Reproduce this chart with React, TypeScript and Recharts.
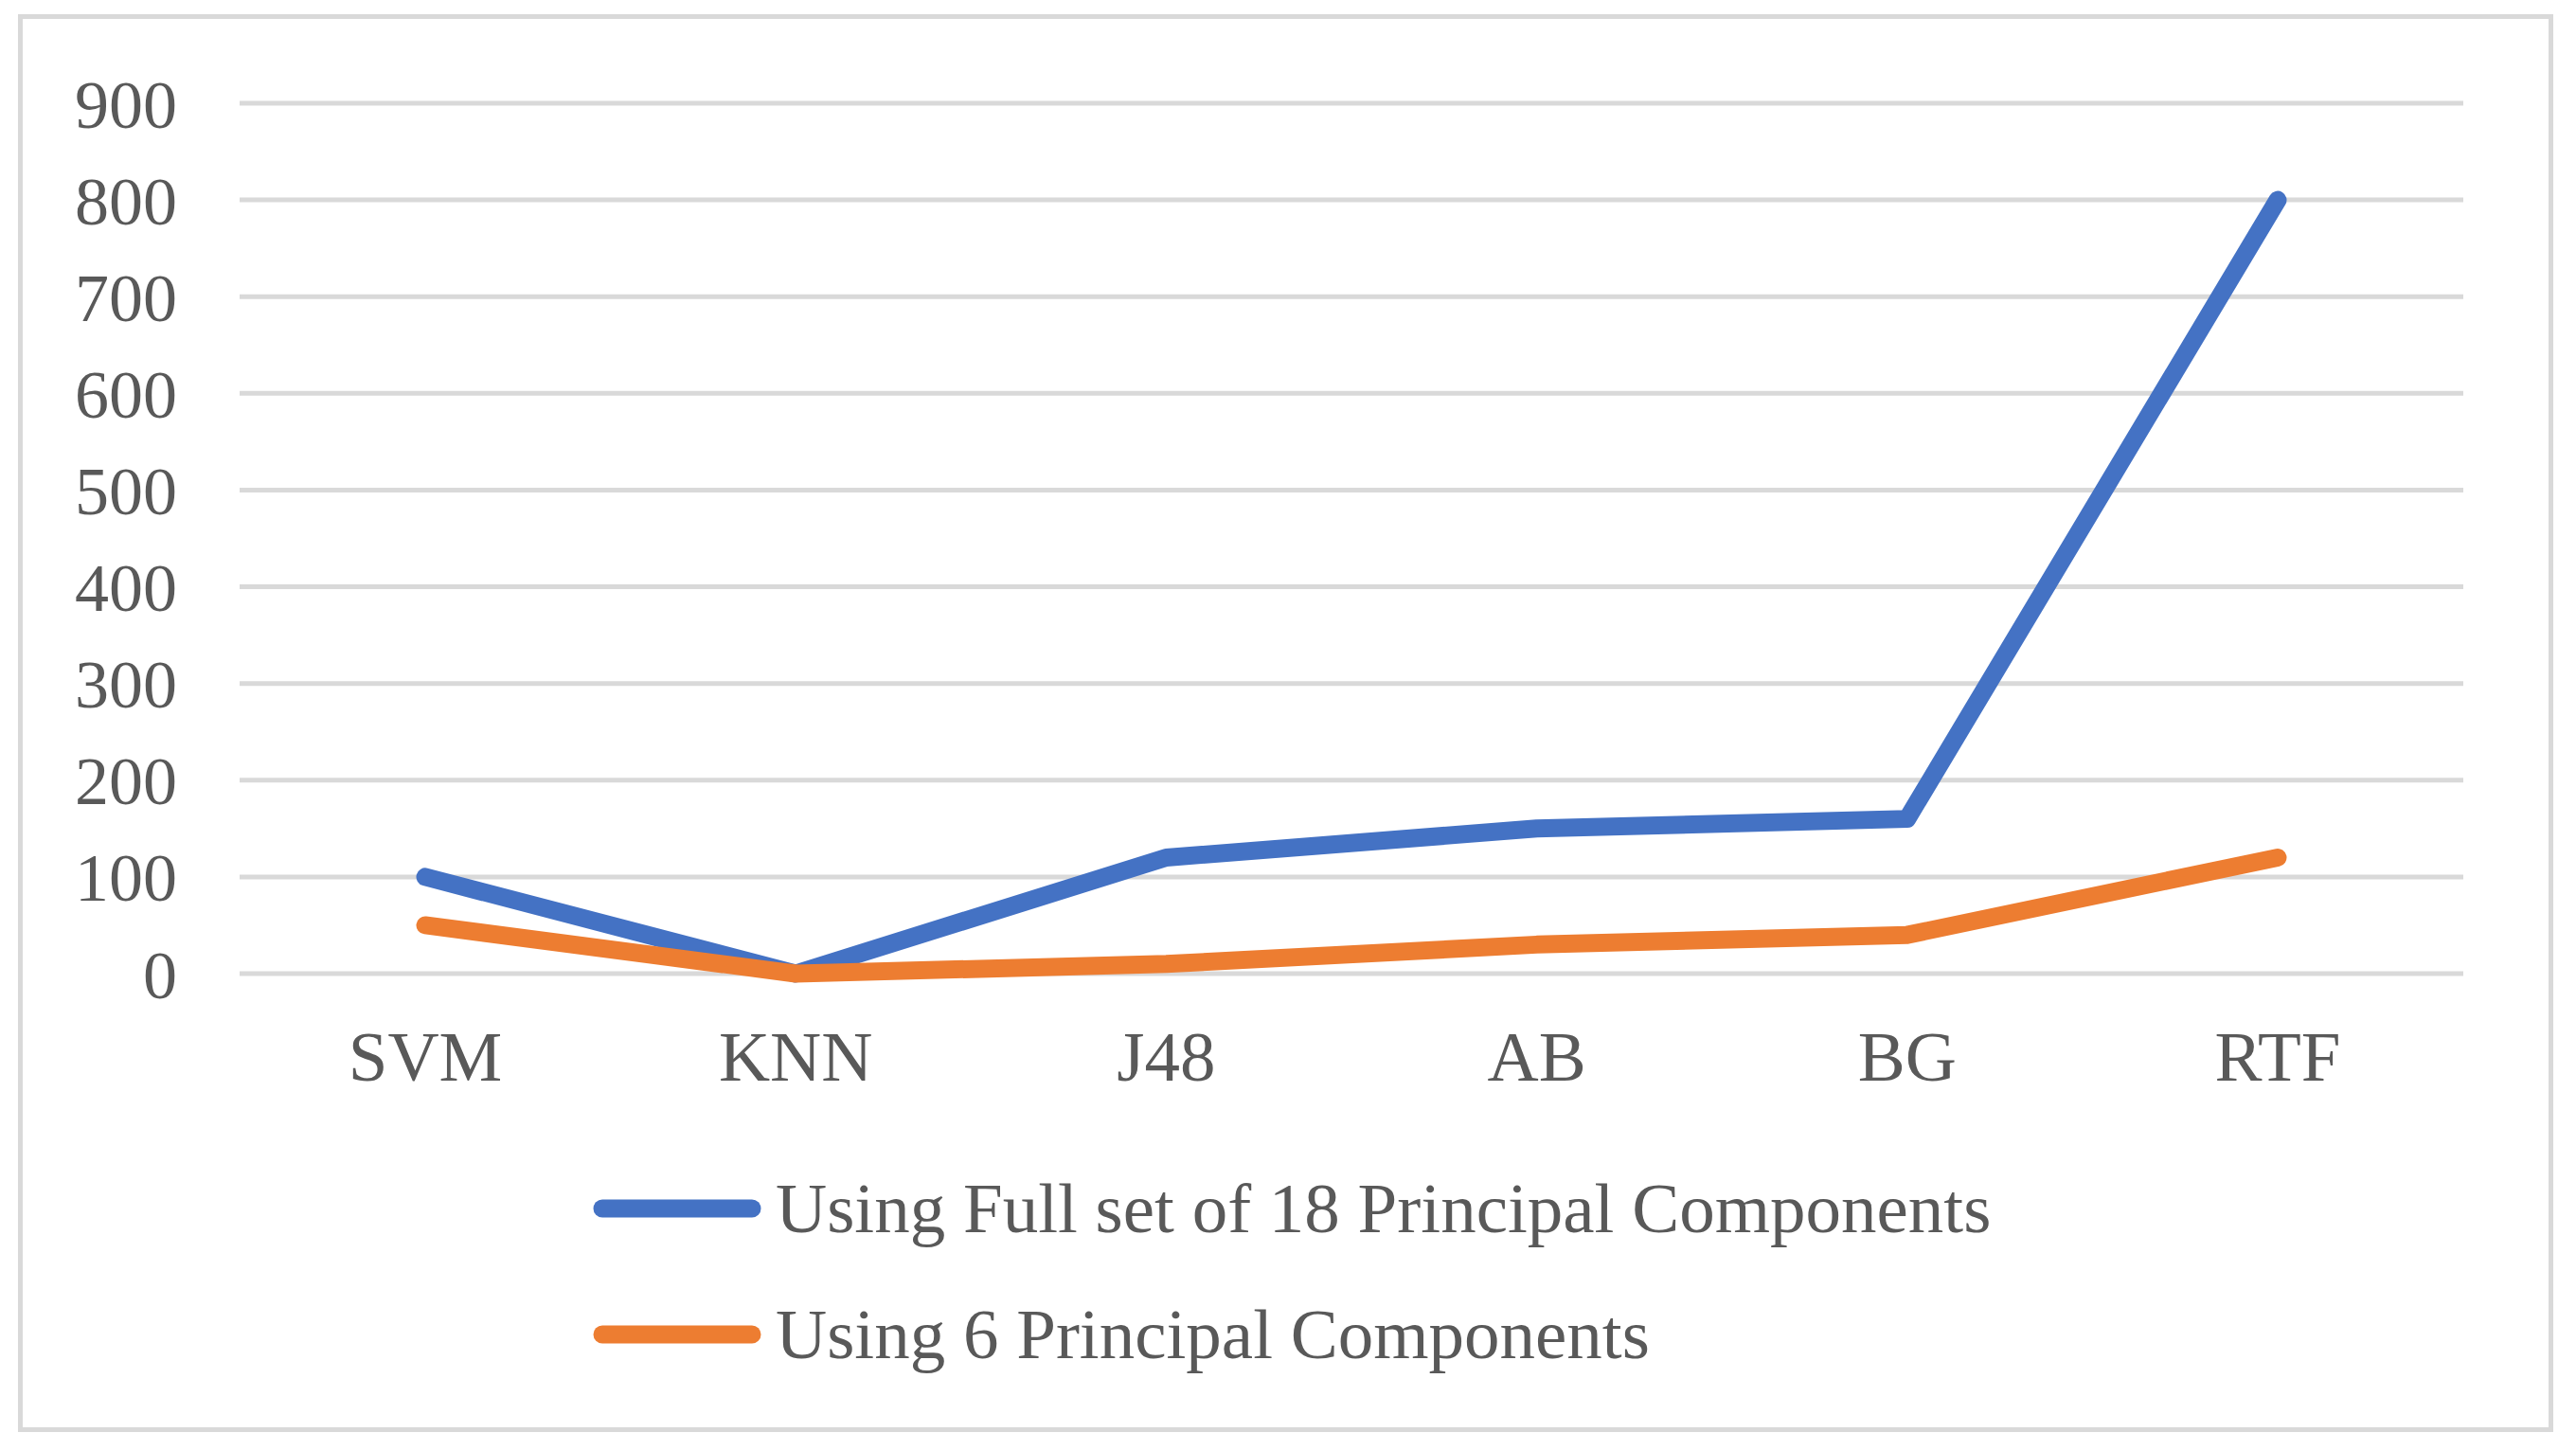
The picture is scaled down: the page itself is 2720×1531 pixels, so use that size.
import { LineChart, Line, XAxis, YAxis, CartesianGrid, Legend } from "recharts";

const categories = ["SVM", "KNN", "J48", "AB", "BG", "RTF"];
const fullSet = [100, 0, 120, 150, 160, 800];
const sixComponents = [50, 0, 10, 30, 40, 120];
const yTicks = [0, 100, 200, 300, 400, 500, 600, 700, 800, 900];

const seriesNames = {
    full: "Using Full set of 18 Principal Components",
    six: "Using 6 Principal Components",
};

const data = categories.map((name, i) => ({
    name,
    full: fullSet[i],
    six: sixComponents[i],
}));

const FONT = "'Liberation Serif', 'Times New Roman', serif";
const TEXT = "#595959";

function LegendRows({ payload }: any) {
    return (
        <div style={{ fontFamily: FONT }}>
            {(payload || []).map((entry: any) => (
                <div
                    key={entry.value}
                    style={{ display: "flex", alignItems: "center", height: 133 }}
                >
                    <svg width={193} height={30} style={{ display: "block" }}>
                        <line
                            x1={10}
                            y1={15}
                            x2={168}
                            y2={15}
                            stroke={entry.color}
                            strokeWidth={19}
                            strokeLinecap="round"
                        />
                    </svg>
                    <span style={{ fontSize: 75, color: TEXT, lineHeight: 1 }}>
                        {seriesNames[entry.dataKey as "full" | "six"]}
                    </span>
                </div>
            ))}
        </div>
    );
}

export default function App() {
    return (
        <div style={{ position: "absolute", left: 0, top: 0, width: 2720, height: 1531, background: "#fff" }}>
            <div
                style={{
                    position: "absolute",
                    left: 19,
                    top: 15,
                    width: 2677,
                    height: 1497,
                    border: "5px solid #d9d9d9",
                    boxSizing: "border-box",
                }}
            />
            <LineChart
                width={2720}
                height={1531}
                data={data}
                margin={{ top: 109, right: 119, left: 0, bottom: 403 }}
                style={{ position: "absolute", left: 0, top: 0 }}
            >
                <CartesianGrid vertical={false} stroke="#d9d9d9" strokeWidth={5} />
                <XAxis
                    dataKey="name"
                    axisLine={false}
                    tickLine={false}
                    tickSize={0}
                    tickMargin={60}
                    height={100}
                    padding={{ left: 196, right: 196 }}
                    tick={{ fill: TEXT, fontSize: 75, fontFamily: FONT }}
                />
                <YAxis
                    domain={[0, 900]}
                    ticks={yTicks}
                    width={253}
                    axisLine={false}
                    tickLine={false}
                    tickSize={0}
                    tickMargin={66}
                    tick={{ fill: TEXT, fontSize: 72, fontFamily: FONT }}
                />
                <Legend
                    layout="vertical"
                    align="center"
                    verticalAlign="middle"
                    itemSorter="dataKey"
                    content={<LegendRows />}
                    wrapperStyle={{ left: 626, top: 1209, width: 1800 }}
                />
                <Line
                    dataKey="full"
                    name={seriesNames.full}
                    stroke="#4472c4"
                    strokeWidth={19}
                    strokeLinecap="round"
                    strokeLinejoin="round"
                    dot={false}
                    activeDot={false}
                    isAnimationActive={false}
                />
                <Line
                    dataKey="six"
                    name={seriesNames.six}
                    stroke="#ed7d31"
                    strokeWidth={19}
                    strokeLinecap="round"
                    strokeLinejoin="round"
                    dot={false}
                    activeDot={false}
                    isAnimationActive={false}
                />
            </LineChart>
        </div>
    );
}
